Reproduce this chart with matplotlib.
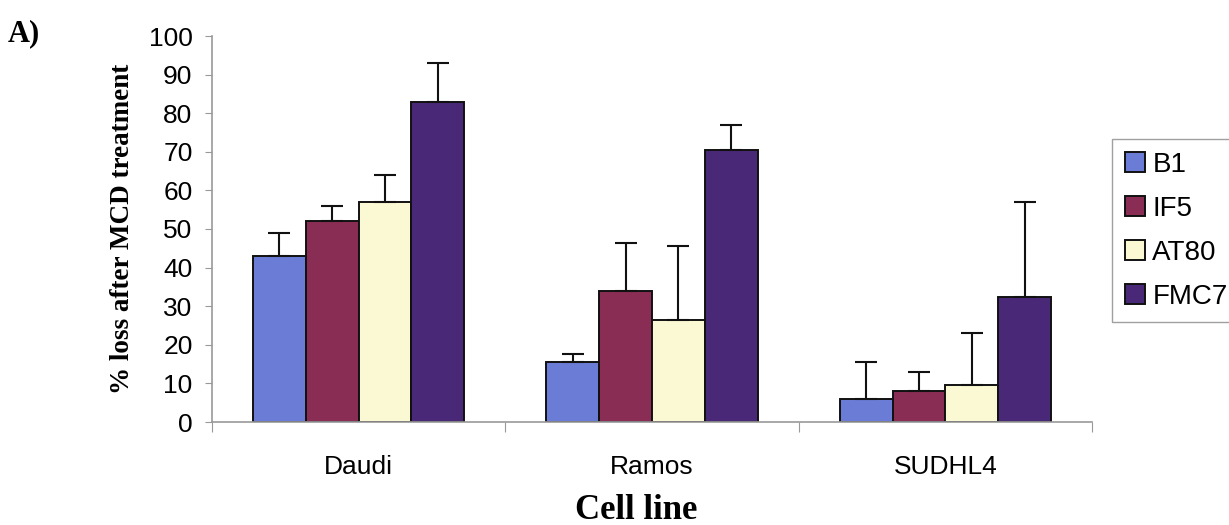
import matplotlib
matplotlib.use("Agg")
import matplotlib.pyplot as plt
import numpy as np

cell_lines = ["Daudi", "Ramos", "SUDHL4"]
series_names = ["B1", "IF5", "AT80", "FMC7"]
b1 = [43, 15.5, 6]
if5 = [52, 34, 8]
at80 = [57, 26.5, 9.5]
fmc7 = [83, 70.5, 32.5]
b1_err = [6, 2, 9.5]
if5_err = [4, 12.5, 5]
at80_err = [7, 19, 13.5]
fmc7_err = [10, 6.5, 24.5]
colors = ["#6b7cd6", "#8a2d55", "#fbf8d4", "#4a2878"]
yticks = list(range(0, 101, 10))

values = [b1, if5, at80, fmc7]
errors = [b1_err, if5_err, at80_err, fmc7_err]

fig = plt.figure(figsize=(12.29, 5.25), dpi=100)
ax = fig.add_axes([212/1229, 1-422/525, (1092-212)/1229, (422-36)/525])

x = np.arange(len(cell_lines))
width = 0.18
for i, (vals, errs, col, name) in enumerate(zip(values, errors, colors, series_names)):
    pos = x + (i - 1.5) * width
    ax.bar(pos, vals, width, color=col, edgecolor="#111111", linewidth=1.4, label=name,
           yerr=[np.zeros(len(errs)), errs], error_kw=dict(ecolor="#111111", elinewidth=1.5, capsize=8, capthick=1.5),
           zorder=2)

ax.set_xlim(-0.5, 2.5)
ax.set_ylim(0, 100)
ax.set_yticks(yticks)
ax.set_yticklabels([str(t) for t in yticks], fontsize=19, family="Liberation Sans")
ax.set_xticks([-0.5, 0.5, 1.5, 2.5], minor=False)
ax.set_xticklabels([])
ax.tick_params(axis="x", length=7, color="#999999", direction="out")
ax.tick_params(axis="y", length=5, color="#999999", direction="out", pad=9)
for i, name in enumerate(cell_lines):
    ax.text(x[i], -8.5, name, ha="center", va="top", fontsize=19, family="Liberation Sans",
            transform=ax.transData)

for s in ["top", "right"]:
    ax.spines[s].set_visible(False)
for s in ["left", "bottom"]:
    ax.spines[s].set_color("#999999")
    ax.spines[s].set_linewidth(1.2)

ax.set_ylabel("% loss after MCD treatment", fontsize=19.5, family="Liberation Serif", fontweight="bold", labelpad=10)
fig.text(636/1229, 1-519/525, "Cell line", ha="center", va="baseline", fontsize=25,
         family="Liberation Serif", fontweight="bold")
fig.text(8/1229, 1-34/525, "A)", ha="left", va="center", fontsize=22, family="Liberation Serif", fontweight="bold")

leg = fig.legend(loc="upper left", bbox_to_anchor=(1112/1229, 1-139/525), frameon=True, fancybox=False,
                 prop=dict(family="Liberation Sans", size=20), handlelength=0.75, handleheight=0.75,
                 handletextpad=0.25, labelspacing=0.65, borderpad=0.45, borderaxespad=0, edgecolor="#888888")
leg.get_frame().set_linewidth(1.0)

fig.savefig("out.png", dpi=100)
